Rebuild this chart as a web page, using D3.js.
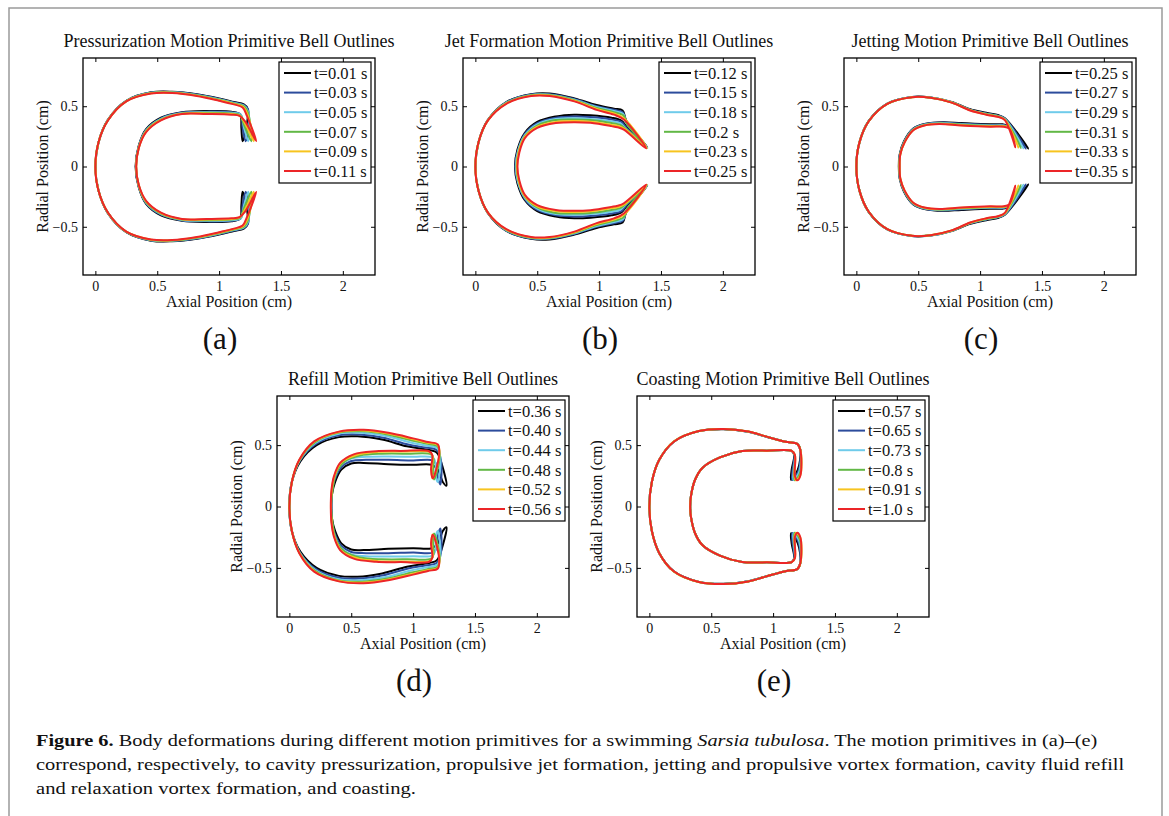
<!DOCTYPE html>
<html>
<head>
<meta charset="utf-8">
<script src="https://cdn.jsdelivr.net/npm/d3@7"></script>
<style>
  body { margin: 0; background: #fff; }
  text { font-family: "Liberation Serif", "Times New Roman", serif; fill: #111; }
</style>
</head>
<body>
<svg id="fig" width="1169" height="816"></svg>
<script>
// colours used for the six time steps of every panel
const lineColors = ["#000000", "#2c4c9c", "#6fcbea", "#62b846", "#f7c41f", "#ec2528"]

const xTicks = [0, 0.5, 1, 1.5, 2]
const yTicks = [-0.5, 0, 0.5]

// legend entries
const pressurizationTimes = ["t=0.01 s", "t=0.03 s", "t=0.05 s", "t=0.07 s", "t=0.09 s", "t=0.11 s"]
const jetFormationTimes = ["t=0.12 s", "t=0.15 s", "t=0.18 s", "t=0.2 s", "t=0.23 s", "t=0.25 s"]
const jettingTimes = ["t=0.25 s", "t=0.27 s", "t=0.29 s", "t=0.31 s", "t=0.33 s", "t=0.35 s"]
const refillTimes = ["t=0.36 s", "t=0.40 s", "t=0.44 s", "t=0.48 s", "t=0.52 s", "t=0.56 s"]
const coastingTimes = ["t=0.57 s", "t=0.65 s", "t=0.73 s", "t=0.8 s", "t=0.91 s", "t=1.0 s"]

// upper half of each bell outline (axial, radial in cm): outer surface from apex to the
// margin tip, then inner surface back to the axis. lower half is the mirror image.
const pressurizationOutlines = [
  [[0,0],[0.025,0.2],[0.1,0.385],[0.25,0.545],[0.45,0.615],[0.62,0.62],[0.82,0.6],[1.0,0.565],[1.12,0.535],[1.2,0.515],[1.23,0.48],[1.22,0.32],[1.19,0.21],[1.18,0.32],[1.17,0.43],[1.1,0.455],[0.9,0.46],[0.7,0.45],[0.53,0.405],[0.41,0.31],[0.35,0.17],[0.325,0]],
  [[0,0],[0.025,0.2],[0.1,0.385],[0.25,0.545],[0.45,0.613],[0.62,0.618],[0.82,0.597],[1.0,0.561],[1.12,0.531],[1.2,0.51],[1.235,0.47],[1.235,0.32],[1.215,0.21],[1.19,0.32],[1.175,0.43],[1.1,0.45],[0.9,0.455],[0.7,0.447],[0.53,0.4],[0.41,0.305],[0.35,0.165],[0.327,0]],
  [[0,0],[0.025,0.2],[0.1,0.383],[0.25,0.543],[0.45,0.611],[0.62,0.616],[0.82,0.594],[1.0,0.557],[1.12,0.527],[1.2,0.505],[1.235,0.455],[1.245,0.3],[1.235,0.21],[1.2,0.33],[1.175,0.43],[1.1,0.445],[0.9,0.45],[0.7,0.443],[0.53,0.395],[0.41,0.3],[0.35,0.16],[0.328,0]],
  [[0,0],[0.025,0.2],[0.1,0.382],[0.25,0.542],[0.45,0.609],[0.62,0.614],[0.82,0.591],[1.0,0.553],[1.12,0.523],[1.2,0.5],[1.235,0.44],[1.26,0.21],[1.2,0.35],[1.17,0.425],[1.1,0.44],[0.9,0.445],[0.7,0.44],[0.53,0.39],[0.41,0.295],[0.35,0.155],[0.329,0]],
  [[0,0],[0.025,0.2],[0.1,0.381],[0.25,0.541],[0.45,0.607],[0.62,0.612],[0.82,0.588],[1.0,0.549],[1.12,0.519],[1.195,0.495],[1.23,0.43],[1.28,0.21],[1.205,0.365],[1.17,0.42],[1.1,0.435],[0.9,0.44],[0.7,0.437],[0.53,0.386],[0.41,0.29],[0.35,0.153],[0.33,0]],
  [[0,0],[0.025,0.2],[0.1,0.38],[0.25,0.54],[0.45,0.605],[0.62,0.61],[0.82,0.585],[1.0,0.545],[1.12,0.515],[1.19,0.49],[1.225,0.42],[1.3,0.21],[1.21,0.375],[1.165,0.42],[1.1,0.43],[0.9,0.435],[0.7,0.435],[0.53,0.383],[0.41,0.285],[0.35,0.15],[0.33,0]]
]

const jetFormationOutlines = [
  [[0,0],[0.025,0.2],[0.1,0.385],[0.25,0.535],[0.45,0.6],[0.6,0.605],[0.8,0.565],[0.98,0.51],[1.12,0.48],[1.19,0.465],[1.22,0.38],[1.39,0.16],[1.23,0.32],[1.18,0.38],[1.1,0.405],[0.93,0.425],[0.8,0.43],[0.65,0.415],[0.5,0.37],[0.4,0.28],[0.34,0.14],[0.32,0]],
  [[0,0],[0.025,0.2],[0.1,0.384],[0.25,0.532],[0.45,0.597],[0.6,0.6],[0.8,0.56],[0.98,0.5],[1.12,0.47],[1.19,0.45],[1.22,0.37],[1.39,0.158],[1.225,0.315],[1.18,0.37],[1.1,0.39],[0.93,0.41],[0.8,0.415],[0.65,0.405],[0.5,0.36],[0.4,0.27],[0.345,0.135],[0.323,0]],
  [[0,0],[0.025,0.2],[0.1,0.383],[0.25,0.529],[0.45,0.594],[0.6,0.596],[0.8,0.555],[0.98,0.493],[1.12,0.46],[1.195,0.435],[1.22,0.365],[1.39,0.156],[1.22,0.31],[1.17,0.36],[1.1,0.375],[0.93,0.395],[0.8,0.4],[0.65,0.395],[0.5,0.35],[0.4,0.26],[0.345,0.13],[0.327,0]],
  [[0,0],[0.025,0.2],[0.1,0.382],[0.25,0.526],[0.45,0.591],[0.6,0.593],[0.8,0.55],[0.98,0.485],[1.12,0.45],[1.2,0.42],[1.22,0.36],[1.385,0.154],[1.215,0.31],[1.17,0.345],[1.1,0.36],[0.93,0.385],[0.8,0.39],[0.65,0.385],[0.5,0.34],[0.4,0.25],[0.35,0.125],[0.332,0]],
  [[0,0],[0.025,0.2],[0.1,0.381],[0.25,0.523],[0.45,0.588],[0.6,0.589],[0.8,0.545],[0.98,0.477],[1.12,0.44],[1.2,0.4],[1.385,0.152],[1.21,0.31],[1.16,0.335],[1.1,0.345],[0.93,0.372],[0.8,0.378],[0.65,0.37],[0.5,0.33],[0.4,0.245],[0.35,0.12],[0.336,0]],
  [[0,0],[0.025,0.2],[0.1,0.38],[0.25,0.52],[0.45,0.585],[0.6,0.585],[0.8,0.54],[0.98,0.47],[1.12,0.43],[1.2,0.39],[1.38,0.15],[1.2,0.305],[1.15,0.325],[1.1,0.335],[0.93,0.362],[0.8,0.368],[0.65,0.36],[0.5,0.32],[0.4,0.235],[0.355,0.115],[0.34,0]]
]

const jettingOutlines = [
  [[0,0],[0.025,0.2],[0.1,0.378],[0.25,0.522],[0.45,0.577],[0.6,0.573],[0.77,0.535],[0.92,0.475],[1.05,0.445],[1.15,0.425],[1.2,0.4],[1.39,0.15],[1.23,0.335],[1.18,0.35],[1.08,0.35],[0.85,0.36],[0.7,0.368],[0.56,0.355],[0.46,0.315],[0.385,0.21],[0.35,0.1],[0.343,0]],
  [[0,0],[0.025,0.2],[0.1,0.377],[0.25,0.521],[0.45,0.576],[0.6,0.572],[0.77,0.534],[0.92,0.472],[1.05,0.44],[1.15,0.42],[1.2,0.397],[1.37,0.15],[1.23,0.33],[1.185,0.345],[1.08,0.345],[0.85,0.355],[0.69,0.364],[0.56,0.352],[0.46,0.312],[0.387,0.207],[0.352,0.1],[0.345,0]],
  [[0,0],[0.025,0.2],[0.1,0.376],[0.25,0.521],[0.45,0.576],[0.6,0.572],[0.77,0.533],[0.92,0.47],[1.05,0.437],[1.15,0.418],[1.2,0.394],[1.35,0.152],[1.232,0.327],[1.187,0.34],[1.08,0.34],[0.85,0.35],[0.68,0.36],[0.555,0.348],[0.46,0.308],[0.388,0.205],[0.353,0.1],[0.346,0]],
  [[0,0],[0.025,0.2],[0.1,0.376],[0.25,0.52],[0.45,0.575],[0.6,0.571],[0.77,0.532],[0.92,0.468],[1.05,0.435],[1.15,0.415],[1.2,0.391],[1.33,0.155],[1.233,0.323],[1.188,0.337],[1.08,0.337],[0.85,0.347],[0.675,0.357],[0.552,0.345],[0.46,0.305],[0.389,0.203],[0.354,0.1],[0.348,0]],
  [[0,0],[0.025,0.2],[0.1,0.375],[0.25,0.52],[0.45,0.575],[0.6,0.57],[0.77,0.531],[0.92,0.466],[1.05,0.432],[1.15,0.412],[1.2,0.388],[1.31,0.158],[1.234,0.319],[1.19,0.333],[1.08,0.333],[0.85,0.343],[0.672,0.355],[0.551,0.342],[0.46,0.302],[0.39,0.2],[0.355,0.1],[0.349,0]],
  [[0,0],[0.025,0.2],[0.1,0.375],[0.25,0.52],[0.45,0.575],[0.6,0.57],[0.77,0.53],[0.92,0.465],[1.05,0.43],[1.15,0.41],[1.2,0.385],[1.285,0.16],[1.235,0.315],[1.19,0.33],[1.08,0.33],[0.85,0.34],[0.67,0.352],[0.55,0.34],[0.46,0.3],[0.39,0.2],[0.355,0.1],[0.35,0]]
]

const refillOutlines = [
  [[0,0],[0.02,0.2],[0.09,0.37],[0.22,0.5],[0.4,0.565],[0.55,0.572],[0.75,0.545],[0.95,0.49],[1.1,0.465],[1.19,0.44],[1.22,0.38],[1.27,0.17],[1.24,0.2],[1.2,0.3],[1.15,0.34],[1.0,0.34],[0.8,0.345],[0.6,0.355],[0.5,0.35],[0.42,0.3],[0.37,0.2],[0.345,0.1],[0.34,0]],
  [[0,0],[0.02,0.2],[0.086,0.374],[0.215,0.51],[0.4,0.58],[0.56,0.587],[0.76,0.56],[0.96,0.505],[1.1,0.48],[1.19,0.46],[1.225,0.38],[1.22,0.18],[1.2,0.24],[1.19,0.34],[1.16,0.375],[1.0,0.375],[0.8,0.38],[0.62,0.38],[0.5,0.37],[0.415,0.315],[0.365,0.215],[0.343,0.11],[0.339,0]],
  [[0,0],[0.02,0.2],[0.084,0.376],[0.21,0.517],[0.4,0.593],[0.58,0.6],[0.78,0.575],[0.98,0.522],[1.11,0.495],[1.195,0.475],[1.22,0.4],[1.2,0.2],[1.18,0.26],[1.18,0.36],[1.155,0.4],[1.0,0.405],[0.8,0.408],[0.62,0.405],[0.5,0.39],[0.41,0.33],[0.362,0.225],[0.342,0.115],[0.338,0]],
  [[0,0],[0.02,0.2],[0.082,0.378],[0.205,0.522],[0.4,0.602],[0.59,0.612],[0.79,0.587],[0.99,0.538],[1.115,0.51],[1.197,0.49],[1.215,0.41],[1.17,0.22],[1.16,0.28],[1.165,0.39],[1.145,0.425],[0.95,0.43],[0.75,0.43],[0.57,0.415],[0.45,0.37],[0.38,0.28],[0.35,0.14],[0.337,0]],
  [[0,0],[0.02,0.2],[0.081,0.379],[0.202,0.527],[0.4,0.607],[0.6,0.62],[0.8,0.595],[1.0,0.548],[1.118,0.52],[1.199,0.5],[1.212,0.415],[1.158,0.228],[1.148,0.29],[1.158,0.41],[1.135,0.443],[0.92,0.447],[0.72,0.445],[0.54,0.42],[0.42,0.36],[0.365,0.25],[0.342,0.133],[0.336,0]],
  [[0,0],[0.02,0.2],[0.08,0.38],[0.2,0.53],[0.4,0.61],[0.6,0.625],[0.8,0.6],[1.0,0.555],[1.12,0.525],[1.2,0.505],[1.21,0.42],[1.16,0.23],[1.145,0.3],[1.155,0.42],[1.13,0.45],[0.9,0.453],[0.7,0.45],[0.52,0.425],[0.41,0.355],[0.36,0.245],[0.34,0.13],[0.335,0]]
]

const coastingOutlines = [
  [[0,0],[0.02,0.2],[0.08,0.38],[0.2,0.53],[0.4,0.614],[0.6,0.63],[0.8,0.608],[0.94,0.57],[1.1,0.527],[1.195,0.51],[1.22,0.46],[1.2,0.3],[1.145,0.218],[1.15,0.3],[1.17,0.42],[1.15,0.453],[0.95,0.455],[0.75,0.452],[0.57,0.4],[0.43,0.316],[0.37,0.22],[0.336,0.085],[0.33,0]],
  [[0,0],[0.02,0.2],[0.08,0.38],[0.2,0.53],[0.4,0.614],[0.6,0.631],[0.8,0.609],[0.94,0.57],[1.1,0.527],[1.195,0.51],[1.22,0.46],[1.205,0.29],[1.155,0.216],[1.158,0.3],[1.172,0.42],[1.15,0.453],[0.95,0.455],[0.75,0.452],[0.57,0.4],[0.43,0.316],[0.37,0.22],[0.336,0.085],[0.33,0]],
  [[0,0],[0.02,0.2],[0.08,0.38],[0.2,0.53],[0.4,0.615],[0.6,0.631],[0.8,0.609],[0.94,0.571],[1.1,0.527],[1.195,0.51],[1.22,0.46],[1.21,0.28],[1.165,0.215],[1.165,0.28],[1.174,0.42],[1.15,0.453],[0.95,0.455],[0.75,0.452],[0.57,0.4],[0.43,0.316],[0.37,0.22],[0.336,0.085],[0.33,0]],
  [[0,0],[0.02,0.2],[0.08,0.38],[0.2,0.531],[0.4,0.615],[0.6,0.632],[0.8,0.61],[0.94,0.571],[1.1,0.527],[1.195,0.51],[1.221,0.46],[1.215,0.265],[1.175,0.214],[1.17,0.26],[1.175,0.42],[1.15,0.453],[0.95,0.455],[0.75,0.452],[0.57,0.4],[0.43,0.316],[0.37,0.22],[0.336,0.085],[0.33,0]],
  [[0,0],[0.02,0.2],[0.08,0.38],[0.2,0.531],[0.4,0.615],[0.6,0.632],[0.8,0.61],[0.94,0.571],[1.1,0.527],[1.195,0.51],[1.221,0.46],[1.22,0.255],[1.185,0.213],[1.173,0.25],[1.176,0.42],[1.15,0.453],[0.95,0.455],[0.75,0.452],[0.57,0.4],[0.43,0.316],[0.37,0.22],[0.336,0.085],[0.33,0]],
  [[0,0],[0.02,0.2],[0.08,0.38],[0.2,0.53],[0.4,0.615],[0.6,0.632],[0.8,0.61],[0.94,0.571],[1.1,0.527],[1.195,0.51],[1.22,0.46],[1.22,0.25],[1.195,0.213],[1.176,0.25],[1.176,0.42],[1.15,0.453],[0.95,0.455],[0.75,0.452],[0.57,0.4],[0.43,0.316],[0.37,0.22],[0.336,0.085],[0.33,0]]
]

const panelTitles = [
  "Pressurization Motion Primitive Bell Outlines",
  "Jet Formation Motion Primitive Bell Outlines",
  "Jetting Motion Primitive Bell Outlines",
  "Refill Motion Primitive Bell Outlines",
  "Coasting Motion Primitive Bell Outlines"
]
const panelLabels = ["(a)", "(b)", "(c)", "(d)", "(e)"]
const panelTimes = [pressurizationTimes, jetFormationTimes, jettingTimes, refillTimes, coastingTimes]
const panelOutlines = [pressurizationOutlines, jetFormationOutlines, jettingOutlines, refillOutlines, coastingOutlines]

// where each axes box sits on the page
const boxes = [
  { left: 83, top: 58, height: 217 },
  { left: 463, top: 58, height: 217 },
  { left: 844, top: 58, height: 217 },
  { left: 277, top: 396, height: 221 },
  { left: 637, top: 396, height: 221 }
]
const boxWidth = 292

var svg = d3.select("#fig")

// gray frame round the figure
svg.append("rect")
  .attr("x", 9).attr("y", 8)
  .attr("width", 1153).attr("height", 830)
  .attr("fill", "none")
  .attr("stroke", "#9a9a9a")
  .attr("stroke-width", 1.5)

var fmt = d3.format("~g")

panelTitles.forEach(function (title, i) {
  var b = boxes[i]
  var x = d3.scaleLinear().domain([-0.1, 2.26]).range([0, boxWidth])
  var y = d3.scaleLinear().domain([-0.9, 0.9]).range([b.height, 0])

  var g = svg.append("g").attr("transform", "translate(" + b.left + "," + b.top + ")")

  g.append("defs").append("clipPath").attr("id", "clip" + i)
    .append("rect").attr("width", boxWidth).attr("height", b.height)

  // outlines, black first and red on top
  var line = d3.line()
    .x(function (d) { return x(d[0]) })
    .y(function (d) { return y(d[1]) })
    .curve(d3.curveCatmullRomClosed.alpha(0.5))

  var outlines = panelOutlines[i].map(function (half) {
    var upper = half.slice().reverse()
    var lower = half.slice(1, half.length - 1).map(function (p) { return [p[0], -p[1]] })
    return upper.concat(lower)
  })

  g.append("g").attr("clip-path", "url(#clip" + i + ")")
    .selectAll("path")
    .data(outlines)
    .enter()
    .append("path")
    .attr("d", line)
    .attr("fill", "none")
    .attr("stroke", function (d, k) { return lineColors[k] })
    .attr("stroke-width", 2)
    .attr("stroke-linejoin", "round")

  // axes, ticks inside on all four sides
  var bottom = g.append("g").attr("transform", "translate(0," + b.height + ")")
    .call(d3.axisBottom(x).tickValues(xTicks).tickSize(-4).tickPadding(6).tickFormat(fmt))
  var top = g.append("g")
    .call(d3.axisTop(x).tickValues(xTicks).tickSize(-4).tickFormat(""))
  var left = g.append("g")
    .call(d3.axisLeft(y).tickValues(yTicks).tickSize(-4).tickPadding(5).tickFormat(fmt))
  var right = g.append("g").attr("transform", "translate(" + boxWidth + ",0)")
    .call(d3.axisRight(y).tickValues(yTicks).tickSize(-4).tickFormat(""))

  ;[bottom, top, left, right].forEach(function (a) {
    a.select(".domain").remove()
    a.selectAll("line").attr("stroke", "#000").attr("stroke-width", 1)
    a.selectAll("text")
      .attr("font-family", "'Liberation Serif', serif")
      .attr("font-size", 14)
      .attr("fill", "#111")
  })

  g.append("rect")
    .attr("width", boxWidth).attr("height", b.height)
    .attr("fill", "none").attr("stroke", "#000").attr("stroke-width", 1.3)

  // titles and axis labels
  g.append("text")
    .attr("x", boxWidth / 2).attr("y", -11)
    .attr("text-anchor", "middle")
    .attr("font-size", 18)
    .text(title)

  g.append("text")
    .attr("x", boxWidth / 2).attr("y", b.height + 32)
    .attr("text-anchor", "middle")
    .attr("font-size", 16)
    .text("Axial Position (cm)")

  g.append("text")
    .attr("transform", "translate(-35," + b.height / 2 + ") rotate(-90)")
    .attr("text-anchor", "middle")
    .attr("font-size", 16)
    .text("Radial Position (cm)")

  g.append("text")
    .attr("x", boxWidth / 2 - 9).attr("y", b.height + 73.5)
    .attr("text-anchor", "middle")
    .attr("font-size", 31)
    .text(panelLabels[i])

  // legend
  var lg = g.append("g").attr("transform", "translate(" + (boxWidth - 96) + ",4)")
  lg.append("rect")
    .attr("width", 92).attr("height", 121)
    .attr("fill", "#fff").attr("stroke", "#000").attr("stroke-width", 1.2)
  var rows = lg.selectAll("g.row")
    .data(panelTimes[i])
    .enter()
    .append("g")
    .attr("class", "row")
    .attr("transform", function (d, k) { return "translate(0," + (11 + k * 19.6) + ")" })
  rows.append("line")
    .attr("x1", 5).attr("x2", 32)
    .attr("stroke", function (d, k) { return lineColors[k] })
    .attr("stroke-width", 2)
  rows.append("text")
    .attr("x", 35).attr("dy", "0.35em")
    .attr("font-size", 16.5)
    .text(function (d) { return d })
})

// caption, squeezed to the width of the narrow original type
var captionLines = [
  { y: 746, width: 1062, parts: [
    { t: "Figure 6.", w: "bold" },
    { t: " Body deformations during different motion primitives for a swimming " },
    { t: "Sarsia tubulosa", s: "italic" },
    { t: ". The motion primitives in (a)\u2013(e)" }
  ] },
  { y: 770, width: 1089, parts: [
    { t: "correspond, respectively, to cavity pressurization, propulsive jet formation, jetting and propulsive vortex formation, cavity fluid refill" }
  ] },
  { y: 794, width: 380, parts: [
    { t: "and relaxation vortex formation, and coasting." }
  ] }
]

captionLines.forEach(function (c) {
  var t = svg.append("text")
    .attr("font-size", 17.5)
  t.selectAll("tspan")
    .data(c.parts)
    .enter()
    .append("tspan")
    .attr("font-weight", function (d) { return d.w || null })
    .attr("font-style", function (d) { return d.s || null })
    .text(function (d) { return d.t })
  var natural = t.node().getBBox().width
  t.attr("transform", "translate(36," + c.y + ") scale(" + (c.width / natural) + ",1)")
})
</script>
</body>
</html>
